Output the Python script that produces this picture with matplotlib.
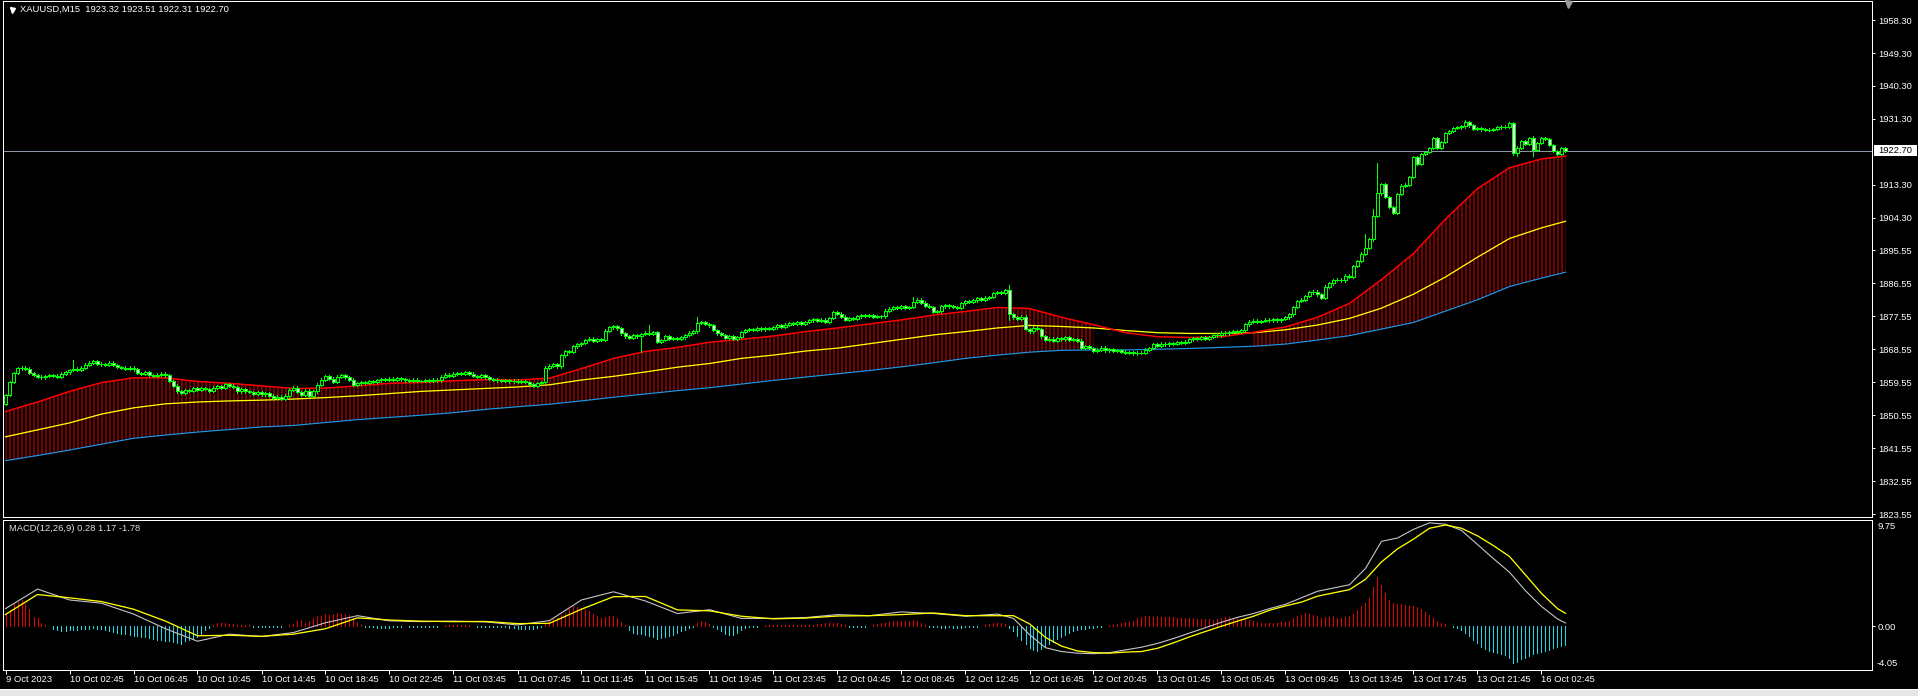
import numpy as np
import matplotlib
matplotlib.use("Agg")
import matplotlib.pyplot as plt
from matplotlib.patches import Rectangle
from matplotlib.lines import Line2D
from matplotlib.transforms import blended_transform_factory

# ---------------- data ----------------
symbol_title = "XAUUSD,M15  1923.32 1923.51 1922.31 1922.70"
macd_title = "MACD(12,26,9) 0.28 1.17 -1.78"
first_open = 1853.5
last_price = 1922.70

closes_a = [
    1856.0, 1859.5, 1862.0, 1863.3, 1863.5, 1863.2, 1862.0, 1861.5, 1861.0, 1860.8,
    1861.2, 1861.5, 1861.3, 1861.0, 1861.8, 1862.2, 1862.8, 1863.2, 1862.9, 1863.5,
    1864.3, 1864.8, 1865.2, 1864.6, 1864.4, 1864.3, 1864.8, 1864.2, 1863.6, 1863.5,
    1863.2, 1863.5, 1863.0, 1862.0, 1861.8, 1862.2, 1861.5, 1861.2, 1861.6, 1861.8,
    1861.4, 1859.8, 1858.6, 1857.0, 1856.5, 1857.3, 1857.2, 1857.8, 1857.4, 1857.9,
    1857.6, 1857.2, 1858.0, 1858.4, 1858.0, 1858.9, 1858.6, 1858.2, 1857.0, 1857.6,
    1857.0, 1856.8, 1856.4, 1856.8, 1856.2, 1856.6, 1855.8, 1855.2, 1855.6, 1855.0,
    1855.8, 1857.5, 1858.0, 1856.8, 1856.0, 1857.2, 1855.8, 1857.0, 1858.8, 1860.2,
    1861.2, 1860.5, 1859.6, 1861.0, 1861.4, 1860.8, 1860.2, 1858.8, 1859.2, 1859.6,
    1859.4, 1859.8, 1859.5, 1860.0, 1860.3, 1860.1, 1860.5, 1860.2, 1860.6, 1860.3,
]
closes_b = [
    1860.0, 1859.8, 1860.2, 1859.8, 1859.8, 1860.1, 1859.9, 1860.2, 1860.0, 1861.0,
    1861.6, 1861.3, 1861.8, 1862.0, 1861.7, 1862.2, 1861.8, 1861.2, 1861.0, 1861.4,
    1860.8, 1860.4, 1860.2, 1860.0, 1859.8, 1860.0, 1859.7, 1859.9, 1859.6, 1859.8,
    1859.5, 1859.0, 1858.6, 1859.2, 1859.6, 1863.5, 1864.0, 1864.5, 1863.8, 1866.8,
    1868.0, 1867.8, 1869.3, 1869.8, 1870.2, 1871.0, 1871.4, 1870.8, 1871.2, 1871.0,
    1873.6, 1874.5, 1874.8, 1874.2, 1872.8, 1872.0, 1871.6, 1872.3, 1872.0, 1872.6,
    1873.0, 1872.6, 1873.2, 1870.6, 1871.0, 1872.0, 1871.4, 1871.6, 1871.3, 1871.7,
    1872.4, 1873.0, 1873.4, 1875.6, 1875.8, 1875.4, 1875.0, 1873.8, 1872.8,
]
closes_c = [
    1872.4,
    1871.6, 1872.0, 1871.4, 1871.8, 1873.2, 1873.8, 1874.0, 1873.8, 1874.2, 1873.9,
    1874.3, 1874.0, 1874.5, 1875.0, 1874.6, 1875.2, 1875.6, 1875.4, 1875.8, 1875.5,
    1875.9, 1876.4, 1876.8, 1876.2, 1876.6, 1876.0, 1877.0, 1878.6, 1878.2, 1877.4,
    1876.6, 1877.0, 1876.8, 1877.5, 1877.8, 1877.6, 1877.8, 1877.4, 1877.6, 1877.5,
    1879.0, 1879.6, 1880.0, 1879.7, 1880.2, 1879.8, 1880.0, 1881.4, 1882.0, 1881.2,
    1880.4, 1880.0, 1878.6, 1878.8, 1880.2, 1880.5, 1880.2, 1880.0, 1879.8, 1881.0, 1881.6,
]
closes_d = [
    1881.4, 1881.8, 1882.4, 1882.0, 1882.6, 1882.8, 1883.8, 1884.0, 1883.8,
    1884.6, 1878.0, 1877.2, 1876.8, 1877.4, 1874.0, 1873.4, 1874.4, 1874.0, 1872.0,
    1871.0, 1871.4, 1870.8, 1871.6, 1871.2, 1871.8, 1871.0, 1871.3, 1870.8, 1868.8,
    1869.4, 1868.8, 1868.0, 1868.4, 1868.9, 1868.2, 1868.6, 1868.0, 1868.3, 1867.8,
    1867.5, 1867.7, 1867.4, 1867.6, 1867.5, 1868.4, 1868.8, 1869.8, 1869.4, 1870.0,
    1869.8, 1870.2, 1870.0, 1870.5, 1870.3, 1870.6, 1871.2, 1871.5, 1871.3, 1871.7,
    1871.4, 1871.8, 1872.5, 1872.3, 1873.0, 1872.8, 1873.2, 1873.4, 1873.2, 1873.8,
    1875.3, 1876.0, 1876.3, 1875.9, 1876.2, 1876.6, 1876.4, 1876.8, 1876.4, 1876.7,
    1877.2, 1878.0, 1880.0, 1881.6, 1882.0, 1883.0, 1884.0, 1884.2, 1883.5, 1882.6,
]
closes_e = [
    1885.6, 1886.5, 1887.4, 1887.5, 1887.3, 1888.6, 1888.2, 1891.2, 1892.6, 1894.6,
    1896.2, 1898.5, 1904.8, 1911.0, 1913.5, 1910.0, 1907.3, 1905.6, 1910.8, 1913.1,
    1913.4, 1915.5, 1920.9, 1919.0, 1921.7, 1922.3, 1923.4, 1926.1, 1923.4, 1925.0,
    1927.5, 1928.0, 1928.8, 1929.0, 1929.3, 1930.4, 1929.6, 1928.6, 1928.8, 1928.5,
    1928.3, 1928.4, 1928.6, 1929.0, 1929.2, 1929.1, 1930.2, 1922.0, 1923.5, 1925.3,
    1924.6, 1926.0, 1922.8, 1924.8, 1926.1, 1925.8, 1924.2, 1922.6, 1921.8, 1923.32, 1922.70,
]
closes = closes_a + closes_b + closes_c + closes_d + closes_e

wick_high = {17: 1865.5, 161: 1875.1, 173: 1877.3, 227: 1882.7, 251: 1886.0,
             340: 1899.9, 342: 1906.8, 343: 1919.3, 365: 1931.0, 382: 1926.7, 390: 1923.51}
wick_low = {159: 1867.7, 251: 1876.5, 377: 1921.5, 378: 1921.2, 382: 1921.3, 390: 1922.31}

# channel lines, sampled every 8 bars (last sample = last bar)
band_upper = [
    1851.5, 1854.1, 1857.0, 1859.4, 1860.7, 1860.7, 1859.7, 1859.2, 1858.5, 1857.8,
    1857.9, 1858.5, 1859.2, 1859.4, 1859.9, 1860.2, 1860.1, 1860.6, 1863.2, 1866.0,
    1867.9, 1869.0, 1870.4, 1871.2, 1872.1, 1873.3, 1874.3, 1875.4, 1876.5, 1877.8,
    1878.8, 1879.9, 1879.6, 1877.2, 1875.2, 1873.0, 1871.9, 1871.7, 1871.9, 1873.1,
    1874.6, 1877.2, 1881.0, 1887.5, 1894.6, 1904.0, 1912.3, 1918.0, 1920.4, 1921.2,
]
band_middle = [
    1844.6, 1846.5, 1848.4, 1850.8, 1852.5, 1853.6, 1854.1, 1854.4, 1854.6, 1854.9,
    1855.3, 1855.8, 1856.4, 1857.0, 1857.4, 1857.8, 1858.2, 1858.8, 1860.1, 1861.1,
    1862.3, 1863.6, 1864.6, 1866.0, 1866.9, 1868.0, 1868.8, 1870.0, 1871.2, 1872.4,
    1873.3, 1874.3, 1875.0, 1874.7, 1874.3, 1873.6, 1873.0, 1872.8, 1872.8, 1873.0,
    1873.8, 1875.1, 1876.9, 1879.7, 1883.5, 1888.2, 1893.6, 1898.7, 1901.6, 1903.4,
]
band_lower = [
    1838.1, 1839.5, 1841.0, 1842.6, 1844.2, 1845.1, 1845.9, 1846.6, 1847.3, 1847.7,
    1848.5, 1849.3, 1849.9, 1850.5, 1851.2, 1852.1, 1852.8, 1853.5, 1854.4, 1855.4,
    1856.3, 1857.2, 1858.0, 1859.0, 1860.0, 1860.9, 1861.8, 1862.7, 1863.7, 1864.8,
    1866.0, 1866.9, 1867.7, 1868.2, 1868.3, 1868.3, 1868.5, 1868.7, 1869.0, 1869.3,
    1869.9, 1871.0, 1872.2, 1874.0, 1875.8, 1878.9, 1882.0, 1885.6, 1887.9, 1889.5,
]
# MACD lines: every 8 bars up to bar 240, then every 4 bars, then the last bar
macd_main = [
    1.6, 3.4, 2.4, 2.1, 1.1, -0.25, -1.4, -0.75, -0.97, -0.6,
    0.3, 0.95, 0.48, 0.4, 0.45, 0.38, 0.1, 0.5, 2.4, 3.15,
    2.3, 1.15, 1.5, 0.7, 0.7, 0.78, 1.05, 0.95, 1.3, 1.15, 0.9,
    1.1, 0.7, -0.8, -2.0, -2.35, -2.5, -2.55, -2.45, -2.2, -1.95,
    -1.6, -1.15, -0.65, -0.15, 0.35, 0.8, 1.15, 1.6, 2.0, 2.6,
    3.2, 3.5, 3.8, 5.3, 7.8, 8.1, 8.9, 9.5, 9.37, 8.8,
    7.5, 6.2, 4.95, 3.25, 1.8, 0.65, 0.28,
]
macd_signal = [
    1.06, 2.9, 2.6, 2.25, 1.55, 0.45, -0.9, -0.85, -0.95, -0.75,
    -0.25, 0.75, 0.55, 0.45, 0.4, 0.42, 0.22, 0.25, 1.55, 2.7,
    2.72, 1.48, 1.4, 0.9, 0.66, 0.73, 0.92, 0.95, 1.05, 1.2, 0.95,
    0.95, 0.95, 0.2, -1.05, -1.85, -2.3, -2.45, -2.5, -2.4, -2.35,
    -2.05, -1.55, -1.0, -0.5, -0.02, 0.45, 0.9, 1.45, 1.85, 2.2,
    2.75, 3.05, 3.35, 4.3, 5.9, 7.1, 8.0, 9.0, 9.3, 9.0,
    8.3, 7.4, 6.4, 4.7, 3.0, 1.6, 1.17,
]
macd_hist = [
    1.2, 1.5, 2.0, 2.25, 2.35, 2.0, 1.6, 0.85, 0.75, 0.3,
    0.1, 0.0, -0.3, -0.4, -0.45, -0.45, -0.4, -0.4, -0.35, -0.3,
    -0.3, -0.25, -0.2, -0.25, -0.3, -0.4, -0.5, -0.55, -0.6, -0.7,
    -0.75, -0.85, -0.9, -0.95, -1.0, -1.05, -1.1, -1.15, -1.25, -1.3,
    -1.35, -1.4, -1.45, -1.6, -1.7, -1.4, -1.3, -1.2, -1.0, -0.7,
    -0.35, -0.15, 0.05, 0.25, 0.3, 0.3, 0.2, 0.15, 0.1, 0.1,
    0.05, 0.05, -0.05, -0.08, -0.05, -0.1, -0.1, -0.1, -0.1, -0.05,
    0.0, 0.1, 0.2, 0.5, 0.55, 0.3, 0.5, 0.7, 0.9, 0.95,
    1.1, 1.05, 1.15, 1.2, 1.15, 1.15, 1.0, 0.75, 0.35, 0.1,
    -0.1, -0.12, -0.12, -0.15, -0.2, -0.2, -0.15, -0.1, -0.05, -0.05,
    0.0, -0.05, -0.1, -0.1, -0.1, -0.1, -0.1, -0.1, -0.08, 0.0,
    0.05, 0.08, 0.1, 0.1, 0.1, 0.08, 0.05, 0.0, -0.05, -0.05,
    -0.05, -0.1, -0.1, -0.1, -0.1, -0.12, -0.15, -0.2, -0.25, -0.3,
    -0.3, -0.32, -0.3, -0.2, -0.05, 0.2, 0.5, 0.6, 0.75, 1.0,
    1.2, 1.6, 1.8, 1.75, 1.7, 1.55, 1.4, 1.1, 0.9, 0.75,
    0.85, 0.95, 0.9, 0.7, 0.4, 0.1, -0.4, -0.6, -0.7, -0.75,
    -0.85, -0.9, -1.0, -1.15, -1.1, -1.0, -0.9, -0.8, -0.65, -0.5,
    -0.35, -0.2, -0.1, 0.3, 0.45, 0.35, 0.2, -0.1, -0.3, -0.5,
    -0.7, -0.85, -0.8, -0.6, -0.4, -0.2, -0.1, -0.08, -0.05, 0.0,
    0.05, 0.08, 0.1, 0.1, 0.08, 0.05, 0.06, 0.08, 0.1, 0.12,
    0.1, 0.1, 0.12, 0.15, 0.2, 0.25, 0.3, 0.3, 0.25, 0.15,
    0.05, -0.05, -0.08, -0.1, -0.08, -0.05, 0.0, 0.05, 0.15, 0.25,
    0.3, 0.4, 0.45, 0.5, 0.5, 0.45, 0.5, 0.55, 0.45, 0.3,
    0.1, -0.05, -0.1, -0.12, -0.15, -0.15, -0.12, -0.15, -0.18, -0.15,
    -0.1, -0.12, -0.1, -0.08, 0.0, 0.05, 0.15, 0.25, 0.3, 0.3,
    0.2, -0.2, -0.5, -0.9, -1.3, -1.7, -2.0, -2.2, -2.3, -2.1,
    -1.9, -1.7, -1.5, -1.2, -1.0, -0.8, -0.6, -0.5, -0.4, -0.3,
    -0.25, -0.2, -0.15, -0.1, -0.05, 0.0, 0.05, 0.1, 0.2, 0.25,
    0.35, 0.4, 0.5, 0.7, 0.85, 0.9, 0.9, 0.85, 0.9, 0.85,
    0.8, 0.85, 0.8, 0.75, 0.7, 0.75, 0.7, 0.7, 0.65, 0.6,
    0.65, 0.6, 0.55, 0.65, 0.75, 0.85, 0.8, 0.75, 0.7, 0.6,
    0.65, 0.55, 0.5, 0.4, 0.3, 0.3, 0.3, 0.3, 0.3, 0.35,
    0.4, 0.5, 0.7, 0.9, 1.0, 1.2, 1.1, 1.0, 0.9, 0.75,
    0.8, 0.85, 0.9, 0.75, 0.7, 0.85, 0.9, 1.1, 1.5, 1.8,
    2.1, 2.6, 3.6, 4.5, 3.8, 3.0, 2.4, 2.1, 2.0, 2.05,
    1.9, 1.8, 1.85, 1.75, 1.6, 1.3, 1.0, 0.7, 0.5, 0.3,
    0.15, 0.0, -0.1, -0.2, -0.4, -0.6, -0.9, -1.3, -1.6, -1.9,
    -2.1, -2.3, -2.4, -2.5, -2.55, -2.7, -2.9, -3.4, -3.3, -3.0,
    -2.9, -2.8, -2.6, -2.5, -2.4, -2.3, -2.2, -2.0, -1.9, -1.8, -1.78,
]
price_ticks = [1958.30, 1949.30, 1940.30, 1931.30, 1913.30, 1904.30, 1895.55,
               1886.55, 1877.55, 1868.55, 1859.55, 1850.55, 1841.55, 1832.55, 1823.55]
macd_top_label, macd_zero_label, macd_bottom_label = "9.75", "0.00", "-4.05"
time_labels = ["9 Oct 2023", "10 Oct 02:45", "10 Oct 06:45", "10 Oct 10:45", "10 Oct 14:45",
               "10 Oct 18:45", "10 Oct 22:45", "11 Oct 03:45", "11 Oct 07:45", "11 Oct 11:45",
               "11 Oct 15:45", "11 Oct 19:45", "11 Oct 23:45", "12 Oct 04:45", "12 Oct 08:45",
               "12 Oct 12:45", "12 Oct 16:45", "12 Oct 20:45", "13 Oct 01:45", "13 Oct 05:45",
               "13 Oct 09:45", "13 Oct 13:45", "13 Oct 17:45", "13 Oct 21:45", "16 Oct 02:45"]

# ---------------- layout ----------------
W, H, DPI = 1918, 696, 96
plt.rcParams['font.family'] = ['Liberation Sans', 'DejaVu Sans']
plt.rcParams['hatch.linewidth'] = 0.75
plt.rcParams['hatch.color'] = '#F00000'
FS = 7
PX = 72.0 / DPI  # one pixel in points

fig = plt.figure(figsize=(W / DPI, H / DPI), dpi=DPI, facecolor='black')


def box(l, t, r, b):
    return [l / W, 1 - b / H, (r - l) / W, (b - t) / H]


ax = fig.add_axes(box(3, 1, 1872, 517))
axm = fig.add_axes(box(3, 520, 1872, 670), sharex=ax)

n = len(closes)
idx = np.arange(n)
bars_per_label = 16
tick_idx = np.arange(len(time_labels)) * bars_per_label
band_idx = np.array(list(range(0, n - 6, 8)) + [n - 1])
macd_idx = np.array(list(range(0, 248, 8)) + list(range(248, n - 2, 4)) + [n - 1])

# ---------------- main price panel ----------------
up = np.array(band_upper)
mid = np.array(band_middle)
low = np.array(band_lower)
ax.fill_between(band_idx, up, low, where=up > mid, facecolor='none',
                edgecolor='#F00000', hatch='||||', linewidth=0, zorder=1)
ax.plot(band_idx, low, color='#1E96E6', lw=1.2 * PX, zorder=2)
ax.plot(band_idx, mid, color='#FFFF00', lw=1.3 * PX, zorder=3)
ax.plot(band_idx, up, color='#FF0000', lw=1.5 * PX, zorder=3)

ax.axhline(last_price, color='#8A96A6', lw=PX, zorder=2)

c = np.array(closes)
o = np.concatenate([[first_open], c[:-1]])
top = np.maximum(o, c)
bot = np.minimum(o, c)
hi = top + 0.35
lo = bot - 0.35
for k, v in wick_high.items():
    hi[k] = max(hi[k], v)
for k, v in wick_low.items():
    lo[k] = min(lo[k], v)
ax.vlines(idx, lo, hi, colors='#00FF00', lw=PX, antialiased=False, zorder=5)
body_h = np.maximum(top - bot, 0.08)
bull = c >= o
ax.bar(idx[bull], body_h[bull], bottom=bot[bull], width=0.55, color='black',
       edgecolor='#00FF00', linewidth=PX, antialiased=False, zorder=6)
ax.bar(idx[~bull], body_h[~bull], bottom=bot[~bull], width=0.55, color='white',
       edgecolor='#00FF00', linewidth=PX, antialiased=False, zorder=6)

ax.set_xlim(-0.625, 466.625)
s_price = 3.666
ax.set_ylim(1823.55 - 3 / s_price, 1823.55 + 513 / s_price)

# ---------------- MACD panel ----------------
h = np.array(macd_hist)
pos = h > 0
axm.vlines(idx[pos], 0, h[pos], colors='#E60000', lw=PX, antialiased=False, zorder=1)
axm.vlines(idx[~pos], 0, h[~pos], colors='#1ED8E6', lw=PX, antialiased=False, zorder=1)
axm.plot(macd_idx, macd_main, color='#C8C8C8', lw=1.1 * PX, zorder=3)
axm.plot(macd_idx, macd_signal, color='#FFFF00', lw=1.3 * PX, zorder=4)
axm.set_ylim(-4.05, 9.76)

# ---------------- styling ----------------
for a in (ax, axm):
    a.set_facecolor('black')
    for sp in a.spines.values():
        sp.set_color('white')
        sp.set_linewidth(PX)
    a.tick_params(colors='white', labelcolor='white', labelsize=FS, width=PX,
                  length=3 * PX, direction='out', pad=3 * PX)
    a.yaxis.tick_right()

ax.set_yticks(price_ticks)
ax.set_yticklabels([f"{v:.2f}" for v in price_ticks])
ax.tick_params(axis='x', bottom=False, labelbottom=False)

axm.set_yticks([0.0])
axm.set_yticklabels([macd_zero_label])
axm.annotate(macd_top_label, xy=(1, 1), xycoords='axes fraction', xytext=(5, -2),
             textcoords='offset pixels', color='white', fontsize=FS, ha='left', va='top')
axm.annotate(macd_bottom_label, xy=(1, 0), xycoords='axes fraction', xytext=(5, 2),
             textcoords='offset pixels', color='white', fontsize=FS, ha='left', va='bottom')

axm.set_xticks(tick_idx)
axm.set_xticklabels(time_labels)
axm.tick_params(axis='x', length=4 * PX, pad=1.5 * PX)
for lab in axm.get_xticklabels():
    lab.set_horizontalalignment('left')

# current price box on the scale
bt = blended_transform_factory(fig.transFigure, ax.transData)
fig.add_artist(Rectangle((1874 / W, last_price - 5.5 / s_price), 43 / W, 11 / s_price,
                         transform=bt, facecolor='white', edgecolor='none', zorder=10))
fig.text(1878 / W, last_price, f"{last_price:.2f}", transform=bt, color='black',
         fontsize=FS, va='center', ha='left', zorder=11)

# titles
fig.add_artist(Line2D([11.5 / W], [1 - 10 / H], marker='v', markersize=5 * PX,
                      color='white', transform=fig.transFigure))
fig.text(20 / W, 1 - 9.5 / H, symbol_title, color='white', fontsize=FS, va='center', ha='left')
fig.text(9 / W, 1 - 528.5 / H, macd_title, color='#E0E0E0', fontsize=FS, va='center', ha='left')

# chart shift marker
fig.add_artist(Line2D([1568 / W], [1 - 4 / H], marker='v', markersize=7 * PX,
                      color='#9A9A9A', transform=fig.transFigure))

# bottom tab strip
fig.add_artist(Rectangle((0, 0), 1, 6 / H, transform=fig.transFigure,
                         facecolor='#E6E6E6', edgecolor='none'))
fig.add_artist(Rectangle((0, 6 / H), 1, 1 / H, transform=fig.transFigure,
                         facecolor='#FFFFFF', edgecolor='none'))

fig.savefig("out.png", dpi=DPI, facecolor='black')
